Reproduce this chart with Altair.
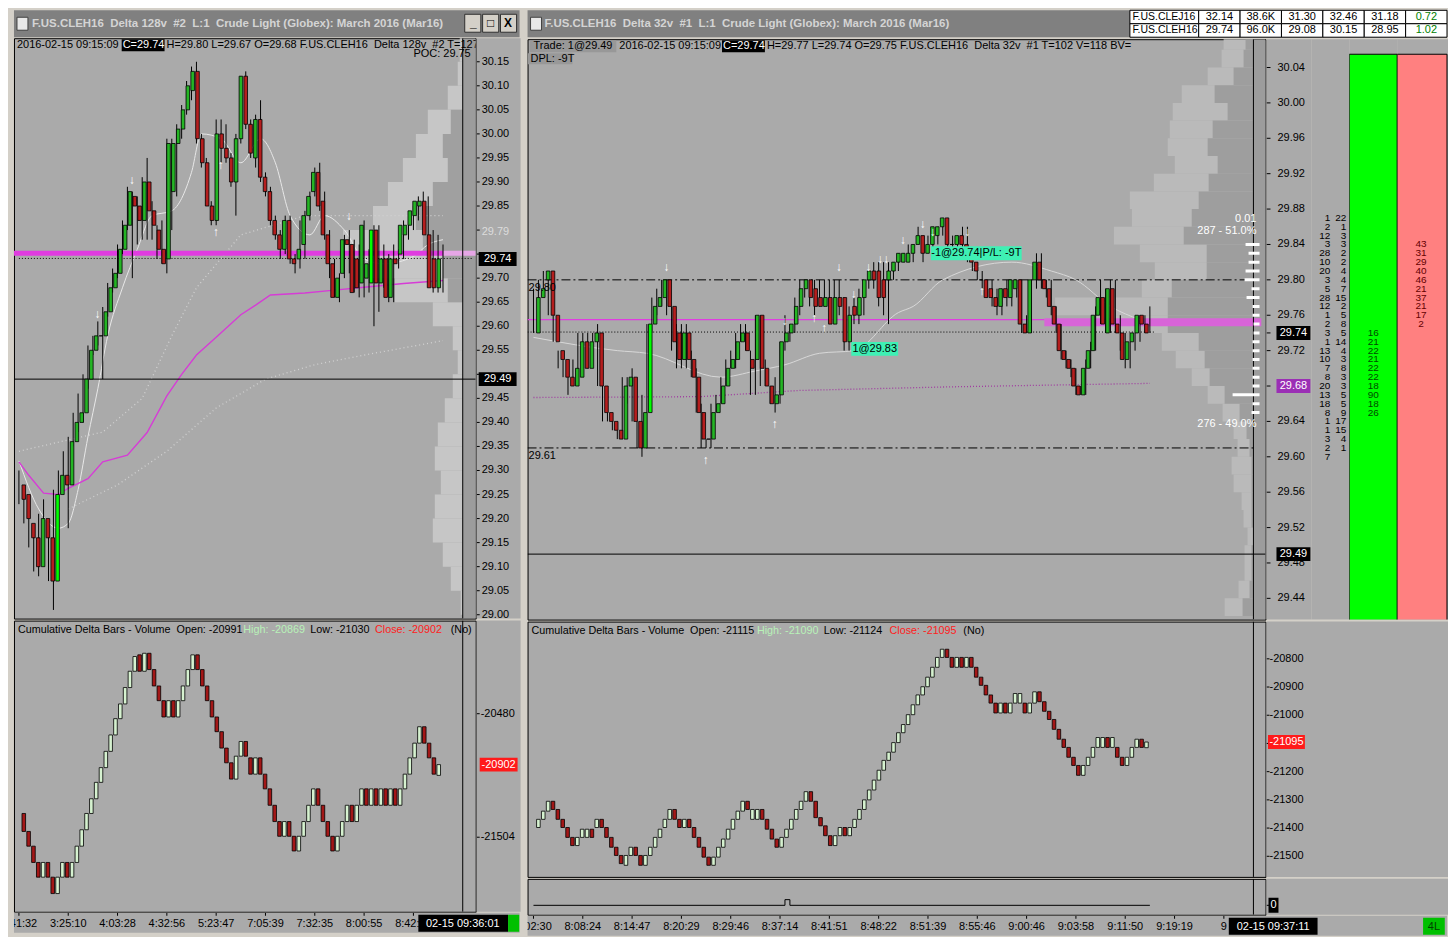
import altair as alt
import pandas as pd

FONT = "Liberation Sans"
PANEL = "#aaaaaa"
FRAME = "#d4d0c8"
CAPTION = "#808080"
CAPTION_TXT = "#d4d4d4"
STRIP = "#9c9c9c"
UP, UP_HI, DOWN = "#25b525", "#00ff00", "#b51e1e"
D_UP, D_DOWN = "#d6f2d0", "#a31717"
MAGENTA = "#e03ce0"
TEAL = "#3ff0b4"
NB = "\u00a0\u00a0"

# ---------------- left chart: F.US.CLEH16 Delta 128v ----------------
l_open = [29.27, 29.25, 29.19, 29.16, 29.10, 29.20, 29.16, 29.07, 29.25, 29.29,
          29.27, 29.36, 29.40, 29.42, 29.49, 29.55, 29.58, 29.58, 29.63, 29.68,
          29.71, 29.76, 29.81, 29.87, 29.85, 29.82, 29.90, 29.84, 29.80, 29.76,
          29.74, 29.88, 29.98, 30.01, 30.05, 30.09, 30.13, 29.99, 29.94, 29.85,
          29.82, 30.00, 29.97, 29.95, 29.90, 29.99, 30.12, 30.02, 29.95, 30.03,
          29.91, 29.88, 29.82, 29.79, 29.76, 29.82, 29.74, 29.74, 29.77, 29.83,
          29.88, 29.92, 29.86, 29.79, 29.73, 29.66, 29.71, 29.78, 29.77, 29.74,
          29.69, 29.70, 29.69, 29.80, 29.69, 29.74, 29.66, 29.74, 29.75, 29.79,
          29.81, 29.83, 29.85, 29.86, 29.79, 29.74, 29.68]
l_close = [29.24, 29.20, 29.16, 29.10, 29.20, 29.16, 29.07, 29.25, 29.29, 29.27,
           29.36, 29.40, 29.42, 29.49, 29.55, 29.58, 29.58, 29.63, 29.68, 29.71,
           29.76, 29.81, 29.88, 29.85, 29.82, 29.90, 29.84, 29.81, 29.76, 29.73,
           29.98, 29.98, 30.01, 30.05, 30.10, 30.13, 29.99, 29.94, 29.85, 29.82,
           30.00, 29.97, 29.95, 29.90, 29.99, 30.12, 30.02, 29.96, 30.03, 29.91,
           29.88, 29.82, 29.79, 29.76, 29.82, 29.74, 29.73, 29.76, 29.83, 29.87,
           29.92, 29.85, 29.79, 29.73, 29.66, 29.70, 29.78, 29.77, 29.67, 29.68,
           29.81, 29.73, 29.80, 29.69, 29.74, 29.66, 29.74, 29.73, 29.81, 29.81,
           29.84, 29.86, 29.86, 29.79, 29.68, 29.68, 29.74]
l_high = [29.30, 29.26, 29.20, 29.17, 29.21, 29.24, 29.18, 29.26, 29.30, 29.34,
          29.37, 29.42, 29.46, 29.50, 29.56, 29.58, 29.61, 29.64, 29.69, 29.72,
          29.77, 29.82, 29.89, 29.88, 29.87, 29.91, 29.95, 29.86, 29.81, 29.82,
          29.99, 29.99, 30.02, 30.06, 30.11, 30.14, 30.15, 30.00, 29.95, 29.86,
          30.03, 30.03, 30.02, 29.96, 30.00, 30.12, 30.13, 30.03, 30.04, 30.07,
          29.92, 29.89, 29.83, 29.80, 29.83, 29.83, 29.75, 29.82, 29.84, 29.88,
          29.93, 29.94, 29.88, 29.80, 29.74, 29.71, 29.79, 29.80, 29.78, 29.77,
          29.82, 29.76, 29.81, 29.81, 29.77, 29.75, 29.77, 29.76, 29.82, 29.82,
          29.85, 29.87, 29.88, 29.87, 29.80, 29.79, 29.77]
l_low = [29.23, 29.19, 29.14, 29.09, 29.08, 29.15, 29.07, 29.01, 29.24, 29.26,
         29.18, 29.35, 29.38, 29.40, 29.47, 29.54, 29.56, 29.49, 29.62, 29.67,
         29.70, 29.75, 29.80, 29.70, 29.77, 29.78, 29.78, 29.78, 29.74, 29.73,
         29.71, 29.80, 29.87, 29.99, 30.04, 30.07, 29.98, 29.93, 29.85, 29.81,
         29.81, 29.94, 29.94, 29.89, 29.83, 29.98, 30.01, 29.95, 29.93, 29.90,
         29.87, 29.81, 29.78, 29.74, 29.75, 29.73, 29.71, 29.72, 29.74, 29.82,
         29.87, 29.84, 29.78, 29.70, 29.66, 29.65, 29.70, 29.71, 29.67, 29.66,
         29.66, 29.67, 29.60, 29.63, 29.68, 29.65, 29.65, 29.72, 29.74, 29.78,
         29.80, 29.82, 29.84, 29.76, 29.67, 29.67, 29.67]
l_bright = [7, 72]

l_vwap_i = [0, 2, 5, 8, 10, 14, 17, 22, 26, 30, 33, 36, 40, 45, 48, 51, 58, 64, 70, 78, 86]
l_vwap_p = [29.318, 29.29, 29.253, 29.25, 29.263, 29.283, 29.318, 29.332, 29.379, 29.455, 29.50,
            29.54, 29.577, 29.624, 29.644, 29.665, 29.669, 29.675, 29.681, 29.689, 29.695]
l_ma_i = [0, 4, 8, 10, 12, 14, 16, 18, 21, 24, 27, 31, 35, 37, 41, 45, 49, 52, 55, 59, 62, 66, 70, 74, 80, 83, 86]
l_ma_p = [29.32, 29.22, 29.18, 29.19, 29.26, 29.37, 29.47, 29.58, 29.68, 29.76, 29.83, 29.84, 29.92, 30.00,
          29.99, 29.94, 29.99, 29.94, 29.83, 29.79, 29.83, 29.80, 29.74, 29.73, 29.745, 29.77, 29.78]
l_bbu_i = [0, 17, 25, 31, 36, 45, 58, 86]
l_bbu_p = [29.34, 29.38, 29.45, 29.58, 29.68, 29.79, 29.83, 29.83]
l_bbl_i = [10, 20, 30, 40, 50, 60, 70, 86]
l_bbl_p = [29.22, 29.27, 29.34, 29.43, 29.49, 29.52, 29.54, 29.57]

l_arr_i = [23, 16, 41, 40, 67]
l_arr_p = [29.905, 29.625, 29.935, 29.795, 29.83]
l_arr_t = ["\u2193", "\u2193", "\u2191", "\u2191", "\u2193"]

l_prof_lo = [29.00, 29.05, 29.10, 29.15, 29.20, 29.25, 29.30, 29.35, 29.40, 29.45, 29.50, 29.55,
             29.60, 29.65, 29.70, 29.75, 29.80, 29.85, 29.90, 29.95, 30.00, 30.05, 30.10, 30.15]
l_prof_out = [2, 12, 20, 30, 28, 22, 28, 25, 18, 10, 5, 10, 30, 68, 100, 120, 90, 75, 60, 47, 35, 15, 5, 3]
l_prof_in = [0, 0, 0, 0, 0, 0, 0, 0, 0, 0, 0, 0, 0, 15, 20, 40, 47, 30, 15, 20, 12, 0, 0, 0]

l_tick_marks = [29.00, 29.05, 29.10, 29.15, 29.20, 29.25, 29.30, 29.35, 29.40, 29.45, 29.50, 29.55,
                29.60, 29.65, 29.70, 29.75, 29.80, 29.85, 29.90, 29.95, 30.00, 30.05, 30.10, 30.15]
l_tick_labels = [29.00, 29.05, 29.10, 29.15, 29.20, 29.25, 29.30, 29.35, 29.40, 29.45, 29.55,
                 29.60, 29.65, 29.70, 29.85, 29.90, 29.95, 30.00, 30.05, 30.10, 30.15]

# cumulative delta (left)
ld_open = [-21307, -21456, -21578, -21713, -21835, -21713, -21835, -21971, -21835, -21713,
           -21835, -21713, -21578, -21442, -21307, -21185, -21049, -20927, -20792, -20656,
           -20521, -20399, -20263, -20128, -19992, -20128, -19979, -20114, -20250, -20372,
           -20507, -20372, -20507, -20372, -20250, -20114, -19992, -20114, -20250, -20372,
           -20507, -20629, -20765, -20887, -21022, -20832, -20710, -20846, -20981, -20846,
           -20981, -21103, -21239, -21374, -21496, -21374, -21496, -21618, -21496, -21374,
           -21239, -21103, -21239, -21374, -21496, -21618, -21496, -21374, -21239, -21374,
           -21239, -21103, -21239, -21103, -21239, -21103, -21239, -21103, -21239, -21103,
           -20981, -20846, -20724, -20588, -20724, -20846, -20991]
ld_close = [-21456, -21578, -21713, -21835, -21713, -21835, -21971, -21835, -21713, -21835,
            -21713, -21578, -21442, -21307, -21185, -21049, -20927, -20792, -20656, -20521,
            -20399, -20263, -20128, -20006, -20128, -19979, -20114, -20250, -20372, -20507,
            -20372, -20507, -20372, -20250, -20114, -19992, -20114, -20250, -20372, -20507,
            -20629, -20765, -20887, -21022, -20832, -20710, -20832, -20981, -20846, -20981,
            -21103, -21239, -21374, -21496, -21374, -21496, -21618, -21496, -21374, -21239,
            -21103, -21239, -21374, -21496, -21618, -21496, -21374, -21239, -21374, -21239,
            -21103, -21239, -21103, -21239, -21103, -21239, -21103, -21239, -21103, -20981,
            -20846, -20724, -20588, -20724, -20846, -20981, -20902]
ld_ticks = [-20480, -21504]

l_time_i = [0, 10, 20, 30, 40, 50, 60, 70, 80]
l_time_t = ["2:41:32", "3:25:10", "4:03:28", "4:32:56", "5:23:47", "7:05:39", "7:32:35", "8:00:55", "8:42:17"]

# ---------------- right chart: F.US.CLEH16 Delta 32v ----------------
r_open = [29.74, 29.78, 29.80, 29.81, 29.76, 29.72, 29.71, 29.69, 29.68, 29.69,
          29.73, 29.70, 29.73, 29.74, 29.68, 29.65, 29.64, 29.63, 29.62, 29.68,
          29.69, 29.64, 29.61, 29.65, 29.75, 29.77, 29.78, 29.80, 29.77, 29.74,
          29.71, 29.74, 29.71, 29.69, 29.65, 29.62, 29.62, 29.65, 29.66, 29.68,
          29.70, 29.71, 29.73, 29.74, 29.71, 29.71, 29.76, 29.70, 29.68, 29.66,
          29.67, 29.73, 29.74, 29.75, 29.77, 29.79, 29.80, 29.79, 29.78, 29.77,
          29.78, 29.75, 29.78, 29.78, 29.73, 29.77, 29.76, 29.78, 29.80, 29.81,
          29.81, 29.80, 29.80, 29.81, 29.82, 29.82, 29.82, 29.83, 29.84, 29.85,
          29.83, 29.84, 29.85, 29.86, 29.87, 29.84, 29.84, 29.85, 29.84, 29.83,
          29.82, 29.80, 29.80, 29.79, 29.78, 29.77, 29.79, 29.78, 29.79, 29.80,
          29.75, 29.74, 29.80, 29.82, 29.80, 29.79, 29.77, 29.75, 29.72, 29.71,
          29.70, 29.68, 29.67, 29.70, 29.72, 29.76, 29.78, 29.74, 29.79, 29.75,
          29.74, 29.71, 29.73, 29.74, 29.76, 29.75]
r_close = [29.78, 29.79, 29.81, 29.76, 29.73, 29.71, 29.69, 29.68, 29.70, 29.73,
           29.70, 29.73, 29.74, 29.68, 29.65, 29.64, 29.63, 29.62, 29.68, 29.69,
           29.64, 29.61, 29.65, 29.75, 29.77, 29.78, 29.80, 29.77, 29.73, 29.71,
           29.74, 29.71, 29.69, 29.65, 29.62, 29.62, 29.65, 29.66, 29.68, 29.70,
           29.71, 29.73, 29.74, 29.72, 29.70, 29.76, 29.70, 29.68, 29.66, 29.67,
           29.73, 29.74, 29.75, 29.77, 29.79, 29.80, 29.78, 29.77, 29.77, 29.78,
           29.75, 29.78, 29.77, 29.73, 29.76, 29.76, 29.78, 29.80, 29.81, 29.80,
           29.78, 29.78, 29.81, 29.82, 29.83, 29.83, 29.83, 29.84, 29.85, 29.83,
           29.84, 29.86, 29.86, 29.87, 29.84, 29.84, 29.85, 29.84, 29.83, 29.82,
           29.81, 29.80, 29.78, 29.78, 29.77, 29.79, 29.78, 29.80, 29.80, 29.75,
           29.74, 29.80, 29.82, 29.80, 29.79, 29.77, 29.75, 29.72, 29.71, 29.70,
           29.68, 29.67, 29.70, 29.72, 29.76, 29.78, 29.75, 29.79, 29.75, 29.74,
           29.71, 29.73, 29.74, 29.76, 29.75, 29.74]
r_high = [29.79, 29.80, 29.81, 29.81, 29.76, 29.72, 29.71, 29.69, 29.71, 29.74,
          29.74, 29.74, 29.74, 29.75, 29.68, 29.65, 29.64, 29.63, 29.69, 29.69,
          29.70, 29.64, 29.67, 29.75, 29.78, 29.79, 29.80, 29.80, 29.77, 29.75,
          29.75, 29.75, 29.72, 29.70, 29.66, 29.62, 29.66, 29.67, 29.69, 29.71,
          29.72, 29.74, 29.75, 29.75, 29.72, 29.76, 29.76, 29.71, 29.68, 29.69,
          29.73, 29.76, 29.75, 29.78, 29.80, 29.80, 29.80, 29.80, 29.80, 29.80,
          29.80, 29.80, 29.80, 29.78, 29.77, 29.78, 29.79, 29.80, 29.81, 29.82,
          29.82, 29.82, 29.82, 29.82, 29.83, 29.83, 29.84, 29.84, 29.86, 29.85,
          29.85, 29.86, 29.86, 29.87, 29.87, 29.85, 29.85, 29.86, 29.86, 29.83,
          29.82, 29.81, 29.80, 29.80, 29.79, 29.79, 29.80, 29.80, 29.80, 29.80,
          29.76, 29.80, 29.83, 29.83, 29.80, 29.80, 29.77, 29.75, 29.72, 29.71,
          29.70, 29.68, 29.71, 29.73, 29.77, 29.80, 29.79, 29.80, 29.80, 29.76,
          29.74, 29.73, 29.74, 29.76, 29.76, 29.77]
r_low = [29.74, 29.77, 29.79, 29.76, 29.73, 29.70, 29.69, 29.67, 29.68, 29.69,
         29.70, 29.70, 29.73, 29.68, 29.64, 29.64, 29.63, 29.62, 29.62, 29.66,
         29.64, 29.61, 29.60, 29.65, 29.74, 29.76, 29.77, 29.76, 29.72, 29.70,
         29.70, 29.70, 29.69, 29.65, 29.61, 29.61, 29.61, 29.65, 29.66, 29.68,
         29.70, 29.70, 29.73, 29.72, 29.67, 29.67, 29.68, 29.68, 29.66, 29.65,
         29.66, 29.72, 29.73, 29.74, 29.76, 29.78, 29.77, 29.76, 29.77, 29.77,
         29.75, 29.75, 29.76, 29.72, 29.72, 29.75, 29.75, 29.76, 29.79, 29.79,
         29.77, 29.76, 29.75, 29.80, 29.81, 29.82, 29.82, 29.82, 29.84, 29.82,
         29.83, 29.83, 29.84, 29.85, 29.83, 29.83, 29.83, 29.83, 29.82, 29.81,
         29.80, 29.79, 29.78, 29.77, 29.76, 29.76, 29.77, 29.77, 29.78, 29.74,
         29.74, 29.74, 29.79, 29.79, 29.78, 29.76, 29.74, 29.71, 29.70, 29.69,
         29.67, 29.67, 29.67, 29.70, 29.72, 29.75, 29.74, 29.74, 29.74, 29.72,
         29.70, 29.70, 29.72, 29.73, 29.74, 29.74]
r_bright = [23]

r_ma_i = [0, 17, 23, 38, 45, 51, 58, 65, 74, 77, 83, 97, 105, 110, 117, 123]
r_ma_p = [29.735, 29.72, 29.717, 29.69, 29.697, 29.704, 29.717, 29.72, 29.763, 29.77, 29.80,
          29.82, 29.81, 29.80, 29.77, 29.755]
r_vwap_i = [0, 34, 54, 84, 125]
r_vwap_p = [29.667, 29.668, 29.675, 29.679, 29.683]

r_arr_i = [27, 51, 57, 59, 62, 65, 68, 71, 35, 49, 75, 79, 81, 88, 91]
r_arr_p = [29.814, 29.754, 29.757, 29.746, 29.814, 29.784, 29.814, 29.824, 29.596, 29.637,
           29.845, 29.863, 29.854, 29.854, 29.787]
r_arr_t = ["\u2193", "\u2193", "\u2191", "\u2191", "\u2193", "\u2193", "\u2193", "\u2193\u2193",
           "\u2191", "\u2191", "\u2193", "\u2193", "\u2193", "\u2193", "\u2191"]

trade_i = [69.2, 89.8]
trade_p = [29.722, 29.830]
trade_t = ["1@29.83", "-1@29.74|P/L: -9T"]

r_prof_lo = [29.42, 29.44, 29.46, 29.48, 29.50, 29.52, 29.54, 29.56, 29.58, 29.60, 29.62,
             29.64, 29.66, 29.68, 29.70, 29.72, 29.74, 29.76, 29.78, 29.80, 29.82, 29.84,
             29.86, 29.88, 29.90, 29.92, 29.94, 29.96, 29.98, 30.00, 30.02, 30.04, 30.06]
r_prof_out = [29, 15, 9, 9, 6, 10, 12, 20, 22, 16, 20, 31, 46, 62, 78, 92, 160, 199, 112, 99,
              114, 140, 122, 124, 100, 79, 86, 84, 81, 72, 46, 32, 30]
r_prof_in = [11, 4, 2, 2, 0, 2, 2, 2, 2, 4, 7, 14, 29, 44, 49, 55, 86, 86, 82, 47,
             47, 70, 62, 55, 45, 36, 46, 41, 26, 39, 20, 10, 8]

r_dv_p = [29.84, 29.83, 29.82, 29.81, 29.80, 29.79, 29.78, 29.77, 29.76, 29.75,
          29.74, 29.73, 29.72, 29.71, 29.70, 29.69, 29.68, 29.67, 29.66, 29.65]
r_dv = [8, 5, 5, 8, 9, 2, 7, 1, 1, 0, 0, 1, 1, 1, 1, 1, 1, 21, 1, 2]
r_note_i = [146.6, 146.6, 146.6]
r_note_p = [29.869, 29.855, 29.637]
r_note_t = ["0.01", "287 - 51.0%", "276 - 49.0%"]

r_tick_marks = [30.04, 30.00, 29.96, 29.92, 29.88, 29.84, 29.80, 29.76, 29.74, 29.72, 29.68,
                29.64, 29.60, 29.56, 29.52, 29.48, 29.44]
r_tick_labels = [30.04, 30.00, 29.96, 29.92, 29.88, 29.84, 29.80, 29.76, 29.72, 29.64, 29.60,
                 29.56, 29.52, 29.48, 29.44]

# cumulative delta (right)
rd_open = [-21398, -21369, -21340, -21305, -21334, -21369, -21398, -21433, -21462, -21433,
           -21433, -21404, -21398, -21369, -21398, -21433, -21468, -21497, -21532, -21497,
           -21468, -21497, -21532, -21497, -21468, -21433, -21398, -21369, -21334, -21369,
           -21398, -21369, -21398, -21433, -21468, -21503, -21532, -21503, -21468, -21439,
           -21404, -21369, -21340, -21305, -21369, -21369, -21334, -21369, -21404, -21439,
           -21468, -21433, -21404, -21369, -21334, -21305, -21271, -21305, -21363, -21392,
           -21427, -21462, -21427, -21398, -21427, -21398, -21369, -21334, -21300, -21265,
           -21230, -21195, -21160, -21131, -21097, -21062, -21033, -20998, -20963, -20928,
           -20899, -20865, -20830, -20795, -20766, -20795, -20830, -20795, -20830, -20795,
           -20830, -20865, -20894, -20928, -20957, -20992, -20957, -20992, -20957, -20957,
           -20957, -20992, -20957, -20917, -20952, -20986, -21015, -21050, -21085, -21114,
           -21149, -21178, -21213, -21178, -21149, -21114, -21114, -21079, -21114, -21114,
           -21149, -21178, -21149, -21114, -21085, -21115]
rd_close = [-21369, -21340, -21305, -21334, -21369, -21398, -21433, -21462, -21433, -21404,
            -21404, -21433, -21369, -21398, -21433, -21468, -21497, -21526, -21497, -21468,
            -21497, -21532, -21497, -21468, -21433, -21404, -21369, -21334, -21369, -21398,
            -21369, -21398, -21433, -21468, -21503, -21532, -21503, -21468, -21439, -21404,
            -21369, -21340, -21305, -21334, -21334, -21334, -21369, -21404, -21439, -21468,
            -21433, -21404, -21369, -21334, -21305, -21271, -21305, -21363, -21392, -21427,
            -21462, -21427, -21398, -21427, -21398, -21369, -21334, -21300, -21265, -21230,
            -21195, -21160, -21131, -21097, -21062, -21033, -20998, -20963, -20928, -20899,
            -20865, -20830, -20795, -20766, -20795, -20830, -20795, -20830, -20795, -20830,
            -20865, -20894, -20928, -20957, -20992, -20957, -20992, -20957, -20923, -20923,
            -20992, -20957, -20917, -20952, -20986, -21015, -21050, -21085, -21114, -21149,
            -21178, -21213, -21178, -21149, -21114, -21079, -21079, -21114, -21079, -21149,
            -21178, -21149, -21114, -21085, -21114, -21095]
rd_ticks = [-20800, -20900, -21000, -21100, -21200, -21300, -21400, -21500]

fill_i = [0, 51, 52, 125]
fill_v = [0, 1, 0, 0]

r_time_i = [0, 10, 20, 30, 40, 50, 60, 70, 80, 90, 100, 110, 120, 130, 140]
r_time_t = ["8:02:30", "8:08:24", "8:14:47", "8:20:29", "8:29:46", "8:37:14", "8:41:51", "8:48:22",
            "8:51:39", "8:55:46", "9:00:46", "9:03:58", "9:11:50", "9:19:19", "9"]

# depth of market
dom_p = [29.87, 29.86, 29.85, 29.84, 29.83, 29.82, 29.81, 29.80, 29.79, 29.78, 29.77, 29.76, 29.75, 29.74,
         29.73, 29.72, 29.71, 29.70, 29.69, 29.68, 29.67, 29.66, 29.65, 29.64, 29.63, 29.62, 29.61, 29.60]
dom_a = ["1", "2", "12", "3", "28", "10", "20", "3", "5", "28", "12", "1", "2", "3",
         "1", "13", "10", "7", "8", "20", "13", "18", "8", "1", "1", "3", "2", "7"]
dom_b = ["22", "1", "3", "3", "2", "2", "4", "4", "7", "15", "2", "5", "8", "5",
         "14", "4", "3", "8", "3", "3", "5", "5", "9", "17", "15", "4", "1", ""]
bid_p = [29.74, 29.73, 29.72, 29.71, 29.70, 29.69, 29.68, 29.67, 29.66, 29.65]
bid_q = ["16", "21", "22", "21", "22", "22", "18", "90", "18", "26"]
ask_p = [29.84, 29.83, 29.82, 29.81, 29.80, 29.79, 29.78, 29.77, 29.76, 29.75]
ask_q = ["43", "31", "29", "40", "46", "21", "37", "21", "17", "2"]

# quote board
q_sym = ["F.US.CLEJ16", "F.US.CLEH16"]
q_cols = ["last", "vol", "open", "high", "low", "chg"]
q_vals = [["32.14", "38.6K", "31.30", "32.46", "31.18", "0.72"],
          ["29.74", "96.0K", "29.08", "30.15", "28.95", "1.02"]]

# ---------------- scales (4.945 px per bar) ----------------
L_X = [-1.0, 92.63]
L_XT = [-1.0, 101.53]
R_X = [-1.2, 148.45]
R_XT = [-1.2, 185.25]
L_Y = [28.992, 30.199]
R_Y = [29.416, 30.072]
LD_Y = [-22122, -19708]
RD_Y = [-21573, -20668]
S_Y = [-1.67, 4.67]
L_P = [450, -13]
R_P = [728, -12]

ONE = pd.DataFrame({"z": [0]})


def sc(d):
    return alt.Scale(domain=list(d), nice=False, zero=False)


def qx(f, d):
    return alt.X(f, type="quantitative", scale=sc(d), axis=None)


def qy(f, d):
    return alt.Y(f, type="quantitative", scale=sc(d), axis=None)


def dx(v, d):
    return alt.XDatum(v, type="quantitative", scale=sc(d), axis=None)


def dy(v, d):
    return alt.YDatum(v, type="quantitative", scale=sc(d), axis=None)


def text(s, x, y, color="black", size=11, align="left", weight="normal"):
    return alt.Chart(ONE).mark_text(
        text=s, align=align, baseline="middle", font=FONT, fontSize=size,
        fontWeight=weight, color=color, clip=True,
    ).encode(x=alt.value(x), y=alt.value(y))


def box(x0, x1, y0, y1, fill, stroke=None):
    kw = dict(fill=fill, clip=True)
    if stroke:
        kw.update(stroke=stroke, strokeWidth=1)
    return alt.Chart(ONE).mark_rect(**kw).encode(
        x=alt.value(x0), x2=alt.value(x1), y=alt.value(y0), y2=alt.value(y1))


def candles(o, c, xd, yd, h=None, l=None, bright=(), up=UP, down=DOWN):
    df = pd.DataFrame({"i": list(range(len(o))), "o": o, "c": c})
    df["fill"] = [UP_HI if k in bright else (up if cc >= oo else down)
                  for k, oo, cc in zip(df["i"], o, c)]
    out = []
    if h is not None:
        df["h"] = h
        df["l"] = l
        out.append(alt.Chart(df).mark_rule(color="black", strokeWidth=1, clip=True).encode(
            x=qx("i", xd), y=qy("l", yd), y2="h"))
    out.append(alt.Chart(df).mark_bar(size=3.6, stroke="black", strokeWidth=0.8, clip=True).encode(
        x=qx("i", xd), y=qy("o", yd), y2="c", fill=alt.Fill("fill:N", scale=None)))
    return out


def line(i, p, xd, yd, color, width=1.0, dash=None, interp="linear"):
    kw = dict(color=color, strokeWidth=width, clip=True, interpolate=interp)
    if dash:
        kw["strokeDash"] = dash
    return alt.Chart(pd.DataFrame({"i": i, "p": p})).mark_line(**kw).encode(
        x=qx("i", xd), y=qy("p", yd))


def hline(p, x0, x1, xd, yd, color="black", width=1.0, dash=None):
    kw = dict(color=color, strokeWidth=width, clip=True)
    if dash:
        kw["strokeDash"] = dash
    return alt.Chart(ONE).mark_rule(**kw).encode(x=dx(x0, xd), x2=alt.X2Datum(x1), y=dy(p, yd))


def vline(i, xd, color="black"):
    return alt.Chart(ONE).mark_rule(color=color, clip=True).encode(x=dx(i, xd))


def vband(i0, i1, xd, fill):
    return alt.Chart(ONE).mark_rect(fill=fill, clip=True).encode(x=dx(i0, xd), x2=alt.X2Datum(i1))


def profile(lo, v, step, pdom, yd, fill):
    df = pd.DataFrame({"lo": lo, "v": v})
    df["hi"] = df["lo"] + step
    return alt.Chart(df).mark_rect(fill=fill, clip=True).encode(
        x=qx("v", pdom), x2=alt.X2Datum(0), y=qy("lo", yd), y2="hi")


def marks_text(i, p, t, xd, yd, color="white", size=12, align="center"):
    df = pd.DataFrame({"i": i, "p": p, "t": t})
    return alt.Chart(df).mark_text(font=FONT, fontSize=size, color=color, align=align,
                                   baseline="middle", clip=True).encode(
        x=qx("i", xd), y=qy("p", yd), text="t:N")


def ax_labels(vals, texts, yd, x, color="black"):
    df = pd.DataFrame({"p": vals, "t": texts})
    return alt.Chart(df).mark_text(align="left", baseline="middle", font=FONT, fontSize=11,
                                   color=color, clip=True).encode(
        x=alt.value(x), y=qy("p", yd), text="t:N")


def ax_ticks(vals, yd, x1):
    return alt.Chart(pd.DataFrame({"p": vals})).mark_rule(color="black", clip=True).encode(
        x=alt.value(0), x2=alt.value(x1), y=qy("p", yd))


def badge(v, t, yd, xc, w, fill, color="white", h=14):
    df = pd.DataFrame({"p": [v], "t": [t]})
    return [
        alt.Chart(df).mark_tick(orient="horizontal", size=w, thickness=h, color=fill, opacity=1,
                                clip=True).encode(x=alt.value(xc), y=qy("p", yd)),
        alt.Chart(df).mark_text(align="center", baseline="middle", font=FONT, fontSize=11,
                                color=color, clip=True).encode(
            x=alt.value(xc), y=qy("p", yd), text="t:N"),
    ]


def panel(layers, w, h, fill=PANEL, stroke=None):
    vb = dict(fill=fill)
    if stroke:
        vb.update(stroke=stroke, strokeWidth=1)
    return alt.layer(*layers).resolve_scale(x="independent", y="independent").properties(
        width=w, height=h, view=alt.ViewBackground(**vb))


def fmt2(vals):
    return ["%.2f" % v for v in vals]


# ---------------- title bars ----------------
btn = pd.DataFrame({"b": ["min", "max", "close"], "g": ["_", "\u25a1", "X"]})
btn_x = alt.X("b:N", scale=alt.Scale(domain=["min", "max", "close"], range=[452, 504],
                                     paddingInner=0.1, paddingOuter=0), axis=None)
title_L = panel([
    box(3, 14, 7, 20, "#e8e8e8", "#404040"),
    text("F.US.CLEH16" + NB + "Delta 128v" + NB + "#2" + NB + "L:1" + NB +
         "Crude Light (Globex): March 2016 (Mar16)", 18, 14, CAPTION_TXT, 11.5, weight="bold"),
    alt.Chart(btn).mark_rect(fill=FRAME, stroke="#303030", strokeWidth=1).encode(
        x=btn_x, y=alt.value(4), y2=alt.value(22)),
    alt.Chart(btn).mark_text(font=FONT, fontSize=12, fontWeight="bold", color="black",
                             baseline="middle").encode(x=btn_x, y=alt.value(13), text="g:N"),
], 507, 27, fill=CAPTION)

tq = pd.DataFrame([{"r": rr, "c": cc, "t": q_vals[k][j], "col": "#008000" if cc == "chg" else "black"}
                   for k, rr in enumerate(["a", "b"]) for j, cc in enumerate(q_cols)])
ts = pd.DataFrame({"r": ["a", "b"], "c": ["sym", "sym"], "t": q_sym})
row_y = alt.Y("r:N", scale=alt.Scale(domain=["a", "b"], range=[0, 27], paddingInner=0, paddingOuter=0), axis=None)
sym_x = alt.X("c:N", scale=alt.Scale(domain=["sym"], range=[604, 673], paddingInner=0, paddingOuter=0), axis=None)
val_x = alt.X("c:N", scale=alt.Scale(domain=q_cols, range=[673, 922], paddingInner=0, paddingOuter=0), axis=None)
title_R = panel([
    box(3, 14, 7, 20, "#e8e8e8", "#404040"),
    text("F.US.CLEH16" + NB + "Delta 32v" + NB + "#1" + NB + "L:1" + NB +
         "Crude Light (Globex): March 2016 (Mar16)", 17, 14, CAPTION_TXT, 11.5, weight="bold"),
    alt.Chart(ts).mark_rect(fill="white", stroke="black", strokeWidth=1).encode(x=sym_x, y=row_y),
    alt.Chart(ts).mark_text(font=FONT, fontSize=10.5, align="left", dx=-32, color="black").encode(
        x=sym_x, y=row_y, text="t:N"),
    alt.Chart(tq).mark_rect(fill="white", stroke="black", strokeWidth=1).encode(x=val_x, y=row_y),
    alt.Chart(tq).mark_text(font=FONT, fontSize=11).encode(
        x=val_x, y=row_y, text="t:N", color=alt.Color("col:N", scale=None)),
], 922, 27, fill=CAPTION)

# ---------------- left price panel ----------------
plotL = panel([
    vband(90, L_X[1], L_X, STRIP),
    profile(l_prof_lo, l_prof_out, 0.05, L_P, L_Y, "#c6c6c6"),
    profile(l_prof_lo, l_prof_in, 0.05, L_P, L_Y, "#a0a0a0"),
    line(l_bbu_i, l_bbu_p, L_X, L_Y, "#d2d2d2", 1.3, [1, 3]),
    line(l_bbl_i, l_bbl_p, L_X, L_Y, "#d2d2d2", 1.3, [1, 3]),
    line(l_ma_i, l_ma_p, L_X, L_Y, "#e8e8e8", 1, interp="monotone"),
    line(l_vwap_i, l_vwap_p, L_X, L_Y, "#d63cd6", 1.4),
    hline(29.752, L_X[0], 86, L_X, L_Y, MAGENTA, 5),
    hline(29.752, 86, L_X[1], L_X, L_Y, "#e6a6e6", 5),
    hline(29.741, 0, 92, L_X, L_Y, "black", 1, [1, 2]),
    hline(29.49, L_X[0], L_X[1], L_X, L_Y, "black", 1),
    vline(90, L_X),
    *candles(l_open, l_close, L_X, L_Y, l_high, l_low, l_bright),
    marks_text(l_arr_i, l_arr_p, l_arr_t, L_X, L_Y),
    text("2016-02-15 09:15:09", 3, 7),
    box(108, 151, 1, 13, "black"),
    text("C=29.74", 109, 7, "white"),
    text("H=29.80 L=29.67 O=29.68 F.US.CLEH16" + NB + "Delta 128v" + NB + "#2 T=127", 153, 7),
    text("POC: 29.75", 458, 16, align="right"),
], 463, 582, stroke="black")

axisL = panel([
    ax_ticks(l_tick_marks, L_Y, 3),
    ax_labels(l_tick_labels, fmt2(l_tick_labels), L_Y, 5),
    ax_labels([29.795], ["29.79"], L_Y, 5, "#dcdcdc"),
    *badge(29.74, "29.74", L_Y, 21, 38, "black"),
    *badge(29.49, "29.49", L_Y, 21, 38, "black"),
], 44, 582)

# ---------------- left cumulative delta ----------------
dplotL = panel([
    vline(90, L_X),
    *candles(ld_open, ld_close, L_X, LD_Y, up=D_UP, down=D_DOWN),
    text("Cumulative Delta Bars - Volume" + NB + "Open: -20991", 4, 9, size=10.8),
    text("High: -20869", 230, 9, "#b8f2b8", size=10.8),
    text("Low: -21030", 297, 9, size=10.8),
    text("Close: -20902", 362, 9, "#ff2020", size=10.8),
    text("(No)", 438, 9, size=10.8),
], 463, 292, stroke="black")

daxisL = panel([
    ax_ticks(ld_ticks, LD_Y, 3),
    ax_labels(ld_ticks, [str(v) for v in ld_ticks], LD_Y, 4),
    *badge(-20902, "-20902", LD_Y, 22, 38, "#ff1a1a"),
], 44, 292)

time_L = panel([
    alt.Chart(pd.DataFrame({"i": l_time_i})).mark_rule(color="black", clip=True).encode(
        x=qx("i", L_XT), y=alt.value(0), y2=alt.value(3)),
    alt.Chart(pd.DataFrame({"i": l_time_i, "t": l_time_t})).mark_text(
        font=FONT, fontSize=11, baseline="middle", clip=True).encode(
        x=qx("i", L_XT), y=alt.value(11), text="t:N"),
    alt.Chart(ONE).mark_rect(fill="black", clip=True).encode(
        x=dx(81, L_XT), x2=alt.X2Datum(99.2), y=alt.value(2), y2=alt.value(19)),
    alt.Chart(ONE).mark_rect(fill="#00c000", clip=True).encode(
        x=dx(99.2, L_XT), x2=alt.X2Datum(101.5), y=alt.value(2), y2=alt.value(19)),
    alt.Chart(ONE).mark_text(text="02-15 09:36:01", font=FONT, fontSize=11, color="white",
                             baseline="middle", clip=True).encode(x=dx(90, L_XT), y=alt.value(11)),
], 507, 20)

# ---------------- right price panel ----------------
trade_df = pd.DataFrame({"i": trade_i, "p": trade_p, "t": trade_t})
note_df = pd.DataFrame({"i": r_note_i, "p": r_note_p, "t": r_note_t})
plotR = panel([
    vband(146, R_X[1], R_X, STRIP),
    profile(r_prof_lo, r_prof_out, 0.02, R_P, R_Y, "#bababa"),
    profile(r_prof_lo, r_prof_in, 0.02, R_P, R_Y, "#9e9e9e"),
    hline(29.80, R_X[0], 146, R_X, R_Y, "black", 1, [9, 3, 2, 3]),
    hline(29.61, R_X[0], 146, R_X, R_Y, "black", 1, [9, 3, 2, 3]),
    hline(29.755, R_X[0], 103.6, R_X, R_Y, MAGENTA, 1.3),
    hline(29.752, 103.6, 147.6, R_X, R_Y, "#d864d8", 8),
    hline(29.741, R_X[0], 126, R_X, R_Y, "black", 1, [1, 2]),
    line(r_vwap_i, r_vwap_p, R_X, R_Y, "#a03ca0", 1.3, [1, 2]),
    line(r_ma_i, r_ma_p, R_X, R_Y, "#d8d8d8", 1, interp="monotone"),
    hline(29.49, R_X[0], R_X[1], R_X, R_Y, "black", 1),
    vline(146, R_X),
    *candles(r_open, r_close, R_X, R_Y, r_high, r_low, r_bright),
    alt.Chart(pd.DataFrame({"p": [29.80, 29.61], "t": ["29.80", "29.61"]})).mark_text(
        font=FONT, fontSize=11, align="left", baseline="top", dy=2, clip=True).encode(
        x=alt.value(1), y=qy("p", R_Y), text="t:N"),
    alt.Chart(trade_df.iloc[[0]]).mark_tick(orient="horizontal", size=47, thickness=14,
                                            color=TEAL, opacity=1, clip=True).encode(
        x=qx("i", R_X), y=qy("p", R_Y)),
    alt.Chart(trade_df.iloc[[1]]).mark_tick(orient="horizontal", size=91, thickness=14,
                                            color=TEAL, opacity=1, clip=True).encode(
        x=qx("i", R_X), y=qy("p", R_Y)),
    alt.Chart(trade_df).mark_text(font=FONT, fontSize=11, color="black", clip=True).encode(
        x=qx("i", R_X), y=qy("p", R_Y), text="t:N"),
    marks_text(r_arr_i, r_arr_p, r_arr_t, R_X, R_Y),
    alt.Chart(pd.DataFrame({"p": r_dv_p, "v": r_dv})).mark_rule(color="white", strokeWidth=3,
                                                                 clip=True).encode(
        x=qx("v", R_P), x2=alt.X2Datum(-6), y=qy("p", R_Y)),
    alt.Chart(note_df).mark_text(font=FONT, fontSize=11, color="white", align="right",
                                 clip=True).encode(
        x=qx("i", R_X), y=qy("p", R_Y), text="t:N"),
    box(2, 89, 1, 13, "#989898"),
    text("Trade: 1@29.49", 6, 7),
    text("2016-02-15 09:15:09", 92, 7),
    box(195, 238, 1, 13, "black"),
    text("C=29.74", 196, 7, "white"),
    text("H=29.77 L=29.74 O=29.75 F.US.CLEH16" + NB + "Delta 32v" + NB + "#1 T=102 V=118 BV=", 240, 7),
    box(0, 45, 14, 25, "#989898"),
    text("DPL: -9T", 3, 20),
], 740, 582, stroke="black")

axisR = panel([
    ax_ticks(r_tick_marks, R_Y, 4),
    ax_labels(r_tick_labels, fmt2(r_tick_labels), R_Y, 11),
    *badge(29.74, "29.74", R_Y, 27, 34, "black"),
    *badge(29.68, "29.68", R_Y, 27, 34, "#9b2fb5"),
    *badge(29.49, "29.49", R_Y, 27, 34, "black"),
], 45, 582)

domN = panel([
    alt.Chart(pd.DataFrame({"p": dom_p, "t": dom_a})).mark_text(
        font=FONT, fontSize=10, align="right", baseline="middle", clip=True).encode(
        x=alt.value(19), y=qy("p", R_Y), text="t:N"),
    alt.Chart(pd.DataFrame({"p": dom_p, "t": dom_b})).mark_text(
        font=FONT, fontSize=10, align="right", baseline="middle", clip=True).encode(
        x=alt.value(35), y=qy("p", R_Y), text="t:N"),
], 38, 582)

domG = panel([
    alt.Chart(ONE).mark_rect(fill="#00ff00", stroke="black", strokeWidth=1, clip=True).encode(
        x=alt.value(0), x2=alt.value(48), y=dy(30.055, R_Y), y2=alt.Y2Datum(29.40)),
    alt.Chart(pd.DataFrame({"p": bid_p, "t": bid_q})).mark_text(
        font=FONT, fontSize=10, baseline="middle", color="#004a00", clip=True).encode(
        x=alt.value(24), y=qy("p", R_Y), text="t:N"),
], 48, 582)

domR = panel([
    alt.Chart(ONE).mark_rect(fill="#ff8080", stroke="black", strokeWidth=1, clip=True).encode(
        x=alt.value(0), x2=alt.value(50), y=dy(30.055, R_Y), y2=alt.Y2Datum(29.40)),
    alt.Chart(pd.DataFrame({"p": ask_p, "t": ask_q})).mark_text(
        font=FONT, fontSize=10, baseline="middle", color="#640000", clip=True).encode(
        x=alt.value(24), y=qy("p", R_Y), text="t:N"),
], 51, 582)

# ---------------- right cumulative delta + lower study ----------------
dplotR = panel([
    vline(146, R_X),
    *candles(rd_open, rd_close, R_X, RD_Y, up=D_UP, down=D_DOWN),
    text("Cumulative Delta Bars - Volume" + NB + "Open: -21115", 4, 9, size=10.8),
    text("High: -21090", 230, 9, "#b8f2b8", size=10.8),
    text("Low: -21124", 297, 9, size=10.8),
    text("Close: -21095", 363, 9, "#ff2020", size=10.8),
    text("(No)", 437, 9, size=10.8),
], 740, 256, stroke="black")

daxisR = panel([
    ax_ticks(rd_ticks, RD_Y, 3),
    ax_labels(rd_ticks, [str(v) for v in rd_ticks], RD_Y, 3),
    *badge(-21095, "-21095", RD_Y, 20, 37, "#ff1a1a"),
], 182, 256)

smallR = panel([
    vline(146, R_X),
    alt.Chart(pd.DataFrame({"i": fill_i, "v": fill_v})).mark_line(
        color="black", strokeWidth=1, interpolate="step-after", clip=True).encode(
        x=qx("i", R_X), y=qy("v", S_Y)),
], 740, 36, stroke="black")

saxisR = panel([
    ax_ticks([0], S_Y, 3),
    *badge(0, "0", S_Y, 7, 10, "black", h=15),
], 182, 36)

time_R = panel([
    alt.Chart(pd.DataFrame({"i": r_time_i})).mark_rule(color="black", clip=True).encode(
        x=qx("i", R_XT), y=alt.value(0), y2=alt.value(3)),
    alt.Chart(pd.DataFrame({"i": r_time_i, "t": r_time_t})).mark_text(
        font=FONT, fontSize=11, baseline="middle", clip=True).encode(
        x=qx("i", R_XT), y=alt.value(11), text="t:N"),
    alt.Chart(ONE).mark_rect(fill="black", clip=True).encode(
        x=dx(141.0, R_XT), x2=alt.X2Datum(159.0), y=alt.value(2), y2=alt.value(19)),
    alt.Chart(ONE).mark_text(text="02-15 09:37:11", font=FONT, fontSize=11, color="white",
                             baseline="middle", clip=True).encode(x=dx(150.0, R_XT), y=alt.value(11)),
    alt.Chart(ONE).mark_rect(fill="#00c000", clip=True).encode(
        x=dx(180.4, R_XT), x2=alt.X2Datum(184.8), y=alt.value(2), y2=alt.value(19)),
    alt.Chart(ONE).mark_text(text="4L", font=FONT, fontSize=11, color="#004000",
                             baseline="middle", clip=True).encode(x=dx(182.6, R_XT), y=alt.value(11)),
], 922, 20)

# ---------------- layout ----------------
left_col = alt.vconcat(
    title_L,
    alt.hconcat(plotL, axisL, spacing=0),
    alt.hconcat(dplotL, daxisL, spacing=0),
    time_L,
    spacing=0,
)
right_col = alt.vconcat(
    title_R,
    alt.hconcat(plotR, axisR, domN, domG, domR, spacing=0),
    alt.hconcat(dplotR, daxisR, spacing=0),
    alt.hconcat(smallR, saxisR, spacing=0),
    time_R,
    spacing=0,
)

chart = alt.hconcat(left_col, right_col, spacing=6).properties(
    padding={"left": 5, "top": 0, "right": 0, "bottom": 0},
    background=FRAME,
).configure_view(strokeWidth=0, fill=PANEL)

chart.save("out.html", embed_options={"renderer": "svg", "actions": False})
